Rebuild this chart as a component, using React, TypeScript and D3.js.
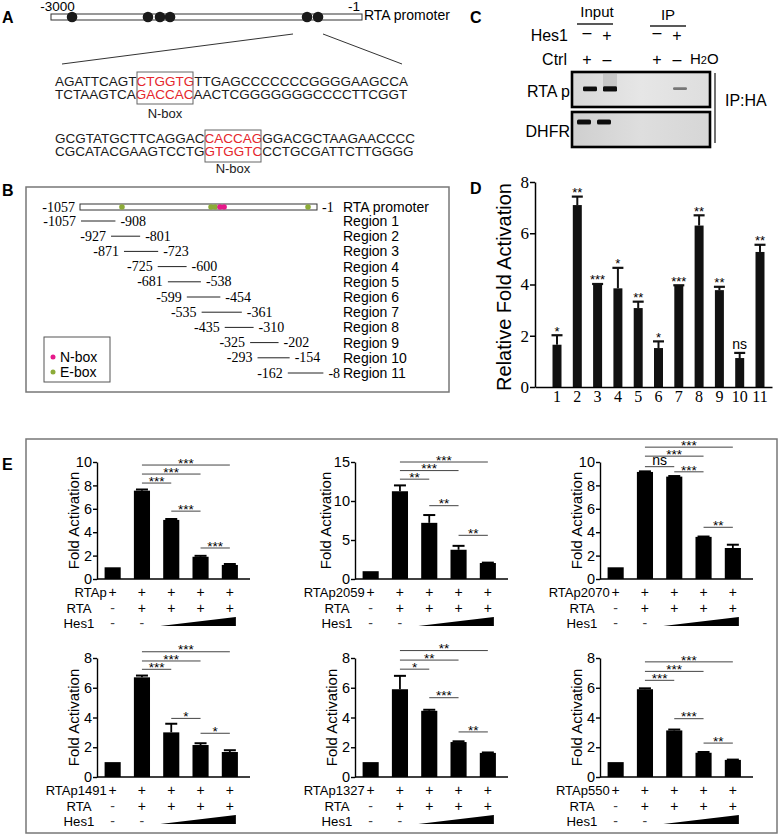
import React, { useEffect, useRef } from "react";
import * as d3 from "d3";

const SANS = "'Liberation Sans', Arial, Helvetica, sans-serif";
const SERIF = "'Liberation Serif', 'Times New Roman', Times, serif";

// ---------------- Panel A data ----------------
const aPromoterRange = [-3000, -1];
const aNBoxSites = [-2797, -2065, -1949, -1852, -531, -425];
const aSeqTop = [
  ["AGATTCAGT", "CTGGTG", "TTGAGCCCCCCCGGGGAAGCCA"],
  ["TCTAAGTCA", "GACCAC", "AACTCGGGGGGGCCCCTTCGGT"],
];
const aSeqBottom = [
  ["GCGTATGCTTCAGGAC", "CACCAG", "GGACGCTAAGAACCCC"],
  ["CGCATACGAAGTCCTG", "GTGGTC", "CCTGCGATTCTTGGGG"],
];

// ---------------- Panel B data ----------------
const bPromoterRange = [-1057, -1];
const bEBoxSites = [-870, -473, -455, -41];
const bNBoxSites = [-433, -415];
const bRegionNames = [
  "Region 1", "Region 2", "Region 3", "Region 4", "Region 5", "Region 6",
  "Region 7", "Region 8", "Region 9", "Region 10", "Region 11",
];
const bRegionStarts = [-1057, -927, -871, -725, -681, -599, -535, -435, -325, -293, -162];
const bRegionEnds = [-908, -801, -723, -600, -538, -454, -361, -310, -202, -154, -8];

// ---------------- Panel C data ----------------
const cLanes = ["InCtrl", "InHes1", "IPCtrl", "IPHes1", "H2O"];
const cLaneSlots = [0, 2, 7, 9, 11.5];
const cHes1Marks = ["–", "+", "–", "+", ""];
const cCtrlMarks = ["+", "–", "+", "–", ""];
const cRtaBand = [0.85, 0.95, 0, 0.3, 0];
const cDhfrBand = [1, 1, 0, 0, 0];

// ---------------- Panel D data ----------------
const dLabels = ["1", "2", "3", "4", "5", "6", "7", "8", "9", "10", "11"];
const dValues = [1.65, 7.1, 4.0, 3.85, 3.08, 1.52, 3.95, 6.3, 3.78, 1.13, 5.27];
const dErrors = [0.37, 0.33, 0.02, 0.8, 0.25, 0.26, 0.02, 0.4, 0.13, 0.2, 0.28];
const dSig = ["*", "**", "***", "*", "**", "*", "***", "**", "**", "ns", "**"];
const dTicks = [0, 2, 4, 6, 8];

// ---------------- Panel E data ----------------
const eConstructs = ["RTAp", "RTAp2059", "RTAp2070", "RTAp1491", "RTAp1327", "RTAp550"];
const eRtaMarks = ["-", "+", "+", "+", "+"];
const eHes1Marks = ["-", "-"];
const eYMax = [10, 15, 10, 8, 8, 8];
const eYStep = [2, 5, 2, 2, 2, 2];

const eValuesRTAp = [1.0, 7.55, 5.05, 1.9, 1.2];
const eErrorsRTAp = [0, 0.1, 0.08, 0.08, 0.08];
const eValues2059 = [1.0, 11.25, 7.2, 3.75, 2.05];
const eErrors2059 = [0, 0.75, 1.0, 0.5, 0.05];
const eValues2070 = [1.0, 9.15, 8.75, 3.6, 2.65];
const eErrors2070 = [0, 0.05, 0.05, 0.03, 0.28];
const eValues1491 = [1.0, 6.7, 3.0, 2.15, 1.68];
const eErrors1491 = [0, 0.12, 0.58, 0.12, 0.12];
const eValues1327 = [1.0, 5.9, 4.45, 2.35, 1.62];
const eErrors1327 = [0, 0.9, 0.07, 0.05, 0.03];
const eValues550 = [1.0, 5.9, 3.13, 1.63, 1.15];
const eErrors550 = [0, 0.06, 0.06, 0.05, 0.02];

// [fromBar, toBar, level, label]
const eSigRTAp = [[1, 4, 9.74, "***"], [1, 3, 8.97, "***"], [1, 2, 8.2, "***"], [2, 3, 5.8, "***"], [3, 4, 2.65, "***"]];
const eSig2059 = [[1, 4, 15.0, "***"], [1, 3, 13.9, "***"], [1, 2, 12.8, "**"], [2, 3, 9.4, "**"], [3, 4, 5.6, "**"]];
const eSig2070 = [[1, 4, 11.27, "***"], [1, 3, 10.5, "***"], [1, 2, 9.6, "ns"], [2, 3, 9.16, "***"], [3, 4, 4.42, "**"]];
const eSig1491 = [[1, 4, 8.42, "***"], [1, 3, 7.8, "***"], [1, 2, 7.24, "***"], [2, 3, 3.94, "*"], [3, 4, 2.94, "*"]];
const eSig1327 = [[1, 4, 8.5, "**"], [1, 3, 7.86, "**"], [1, 2, 7.25, "*"], [2, 3, 5.33, "***"], [3, 4, 3.03, "**"]];
const eSig550 = [[1, 4, 7.74, "***"], [1, 3, 7.1, "***"], [1, 2, 6.5, "***"], [2, 3, 3.92, "***"], [3, 4, 2.28, "**"]];

const eValueSets = [eValuesRTAp, eValues2059, eValues2070, eValues1491, eValues1327, eValues550];
const eErrorSets = [eErrorsRTAp, eErrors2059, eErrors2070, eErrors1491, eErrors1327, eErrors550];
const eSigSets = [eSigRTAp, eSig2059, eSig2070, eSig1491, eSig1327, eSig550];

// ---------------- helpers ----------------
function YAxis({ scale, x, tickValues, fontSize, fontFamily, tickSize, padding, strokeWidth }: any) {
  const ref = useRef<SVGGElement>(null);
  useEffect(() => {
    const g = d3.select(ref.current as SVGGElement);
    g.selectAll("*").remove();
    g.call(
      d3.axisLeft(scale).tickValues(tickValues).tickSize(tickSize).tickPadding(padding).tickSizeOuter(0).tickFormat(d3.format("d")) as any
    );
    g.attr("font-family", fontFamily).attr("font-size", fontSize);
    g.selectAll(".domain, .tick line").attr("stroke", "#000").attr("stroke-width", strokeWidth);
    g.selectAll("text").attr("fill", "#000");
  });
  return <g ref={ref} transform={`translate(${x},0)`} />;
}

function XAxisBand({ scale, y, fontSize, fontFamily, padding, strokeWidth }: any) {
  const ref = useRef<SVGGElement>(null);
  useEffect(() => {
    const g = d3.select(ref.current as SVGGElement);
    g.selectAll("*").remove();
    g.call(d3.axisBottom(scale).tickSize(0).tickPadding(padding).tickSizeOuter(0) as any);
    g.attr("font-family", fontFamily).attr("font-size", fontSize);
    g.selectAll(".domain").attr("stroke", "#000").attr("stroke-width", strokeWidth);
    g.selectAll("text").attr("fill", "#000");
  });
  return <g ref={ref} transform={`translate(0,${y})`} />;
}

// ---------------- Panel A ----------------
function SeqLine({ segs, y }: any) {
  return (
    <text x={55} y={y} fontSize={13.5} fill="#1a1a1a">
      {segs.map((s: string, i: number) => (
        <tspan key={i} fill={i === 1 ? "#e5262c" : "#1a1a1a"}>{s}</tspan>
      ))}
    </text>
  );
}

function PanelA() {
  const x = d3.scaleLinear().domain(aPromoterRange).range([51, 362]);
  return (
    <g>
      <text x={2} y={22.5} fontSize={16} fontWeight="bold">A</text>
      <text x={x(-3000) + 6.5} y={11} fontSize={13.5} textAnchor="middle">-3000</text>
      <text x={x(-1) - 8} y={11} fontSize={13.5} textAnchor="middle">-1</text>
      <rect x={x(-3000)} y={14} width={x(-1) - x(-3000)} height={6} fill="#fff" stroke="#333" strokeWidth={1} />
      {aNBoxSites.map((s, i) => (
        <circle key={i} cx={x(s)} cy={17} r={5.3} fill="#1a1a1a" />
      ))}
      <text x={364} y={20} fontSize={14}>RTA promoter</text>
      <line x1={293} y1={34} x2={62} y2={64} stroke="#333" strokeWidth={1} />
      <line x1={323} y1={34} x2={402} y2={64} stroke="#333" strokeWidth={1} />
      <SeqLine segs={aSeqTop[0]} y={86} />
      <SeqLine segs={aSeqTop[1]} y={99} />
      <rect x={137} y={72} width={56} height={32} fill="none" stroke="#666" strokeWidth={1} />
      <text x={165} y={117.5} fontSize={13} textAnchor="middle" fill="#1a1a1a">N-box</text>
      <SeqLine segs={aSeqBottom[0]} y={142.5} />
      <SeqLine segs={aSeqBottom[1]} y={156} />
      <rect x={205} y={130} width={56} height={32} fill="none" stroke="#666" strokeWidth={1} />
      <text x={233} y={173} fontSize={13} textAnchor="middle" fill="#1a1a1a">N-box</text>
    </g>
  );
}

// ---------------- Panel B ----------------
const GREEN = "#8cab38";
const PINK = "#e6198a";

function PanelB() {
  const xp = d3.scaleLinear().domain(bPromoterRange).range([80, 317]);
  const xr = d3.scaleLinear().domain(bPromoterRange).range([81, 325]);
  const rowY = d3.scalePoint().domain(bRegionNames).range([221, 373]);
  return (
    <g>
      <text x={2} y={196} fontSize={16} fontWeight="bold">B</text>
      <rect x={26} y={187} width={423} height={205} fill="none" stroke="#777" strokeWidth={1.5} />
      <text x={xp(-1057) - 5} y={211.5} fontSize={14} fontFamily={SERIF} textAnchor="end">-1057</text>
      <rect x={xp(-1057)} y={204} width={xp(-1) - xp(-1057)} height={6} fill="#fff" stroke="#333" strokeWidth={1} />
      {bEBoxSites.map((s, i) => (
        <circle key={"e" + i} cx={xp(s)} cy={207} r={2.8} fill={GREEN} />
      ))}
      {bNBoxSites.map((s, i) => (
        <circle key={"n" + i} cx={xp(s)} cy={207} r={2.8} fill={PINK} />
      ))}
      <text x={xp(-1) + 5} y={211.5} fontSize={14} fontFamily={SERIF}>-1</text>
      <text x={343} y={212} fontSize={14}>RTA promoter</text>
      {bRegionNames.map((name, i) => {
        const y = rowY(name) as number;
        const s = bRegionStarts[i];
        const e = bRegionEnds[i];
        return (
          <g key={name}>
            <text x={xr(s) - 5} y={y + 4.6} fontSize={14} fontFamily={SERIF} textAnchor="end">{String(s)}</text>
            <line x1={xr(s)} x2={xr(e)} y1={y} y2={y} stroke="#222" strokeWidth={1} />
            <text x={xr(e) + 5} y={y + 4.6} fontSize={14} fontFamily={SERIF}>{String(e)}</text>
            <text x={343} y={y + 5} fontSize={14}>{name}</text>
          </g>
        );
      })}
      <rect x={44} y={337} width={66} height={45} fill="none" stroke="#555" strokeWidth={1} />
      <circle cx={53} cy={357} r={2.5} fill={PINK} />
      <text x={60} y={362} fontSize={14}>N-box</text>
      <circle cx={53} cy={372} r={2.5} fill={GREEN} />
      <text x={60} y={377} fontSize={14}>E-box</text>
    </g>
  );
}

// ---------------- Panel C ----------------
function PanelC() {
  const lx = d3.scaleLinear().domain([0, 11.5]).range([587, 702]);
  const laneX = cLanes.map((_, i) => lx(cLaneSlots[i]));
  return (
    <g>
      <defs>
        <linearGradient id="gelTop" x1="0" x2="1" y1="0" y2="0">
          <stop offset="0" stopColor="#d8d8d8" />
          <stop offset="0.5" stopColor="#e6e6e6" />
          <stop offset="1" stopColor="#dedede" />
        </linearGradient>
        <linearGradient id="gelBot" x1="0" x2="1" y1="0" y2="0">
          <stop offset="0" stopColor="#cfcfcf" />
          <stop offset="0.5" stopColor="#dedede" />
          <stop offset="1" stopColor="#d6d6d6" />
        </linearGradient>
        <filter id="blur1"><feGaussianBlur stdDeviation="0.6" /></filter>
      </defs>
      <text x={470} y={22.7} fontSize={16} fontWeight="bold">C</text>
      <text x={597} y={17} fontSize={15} textAnchor="middle">Input</text>
      <line x1={577} x2={613} y1={24} y2={24} stroke="#222" strokeWidth={1.3} />
      <text x={668} y={20} fontSize={15} textAnchor="middle">IP</text>
      <line x1={650} x2={686} y1={26} y2={26} stroke="#222" strokeWidth={1.3} />
      <text x={568} y={40.5} fontSize={16} textAnchor="end">Hes1</text>
      <text x={567} y={65} fontSize={16} textAnchor="end">Ctrl</text>
      {cHes1Marks.map((m, i) => (
        <text key={"h" + i} x={laneX[i]} y={m === "+" ? 41 : 38} fontSize={16} textAnchor="middle">{m}</text>
      ))}
      {cCtrlMarks.map((m, i) => (
        <text key={"c" + i} x={laneX[i]} y={65} fontSize={16} textAnchor="middle">{m}</text>
      ))}
      <text x={690} y={64} fontSize={15}>H<tspan fontSize={11}>2</tspan>O</text>

      <text x={570} y={96.5} fontSize={16} textAnchor="end">RTA p</text>
      <text x={570} y={136.5} fontSize={16} textAnchor="end">DHFR</text>

      <rect x={572} y={72} width={138} height={35} fill="url(#gelTop)" stroke="#000" strokeWidth={2.6} />
      <rect x={572} y={112} width={138} height={35} fill="url(#gelBot)" stroke="#000" strokeWidth={2.6} />
      <rect x={603} y={74} width={14} height={12} fill="#9a9a9a" opacity={0.35} filter="url(#blur1)" />
      {cRtaBand.map((v, i) =>
        v > 0 ? (
          <rect key={"r" + i} x={laneX[i] + 3 - 7} y={89 - 1.2 - 1.6 * v} width={14} height={2.4 + 3.2 * v * v}
            rx={1.2} fill="#111" opacity={Math.min(1, 0.2 + v)} filter="url(#blur1)" />
        ) : null
      )}
      {cDhfrBand.map((v, i) =>
        v > 0 ? (
          <rect key={"d" + i} x={laneX[i] - 3 - 7} y={119.5} width={14} height={5} rx={1.5}
            fill="#111" opacity={v} filter="url(#blur1)" />
        ) : null
      )}
      <line x1={715} x2={715} y1={73} y2={143} stroke="#111" strokeWidth={1.2} />
      <text x={725} y={105.5} fontSize={16}>IP:HA</text>
    </g>
  );
}

// ---------------- Panel D ----------------
function PanelD() {
  const y = d3.scaleLinear().domain([0, 8]).range([387, 182]);
  const x = d3.scaleBand().domain(dLabels).range([535, 772]).paddingInner(0.557).paddingOuter(0.616).align(0.7);
  const bw = x.bandwidth();
  return (
    <g>
      <text x={470} y={194} fontSize={16} fontWeight="bold">D</text>
      <text transform={`translate(511,287) rotate(-90)`} fontSize={20} textAnchor="middle">Relative Fold Activation</text>
      {dLabels.map((lab, i) => {
        const cx = (x(lab) as number) + bw / 2;
        const top = y(dValues[i] + dErrors[i]);
        const isNs = dSig[i] === "ns";
        return (
          <g key={lab}>
            <rect x={x(lab)} y={y(dValues[i])} width={bw} height={y(0) - y(dValues[i])} fill="#111" />
            <line x1={cx} x2={cx} y1={y(dValues[i])} y2={top} stroke="#111" strokeWidth={2} />
            <line x1={cx - 5.5} x2={cx + 5.5} y1={top} y2={top} stroke="#111" strokeWidth={2.2} />
            <text x={cx} y={isNs ? top - 4 : top + 0.5} fontSize={isNs ? 14 : 13} textAnchor="middle">{dSig[i]}</text>
          </g>
        );
      })}
      <YAxis scale={y} x={535} tickValues={dTicks} fontSize={17} fontFamily={SERIF} tickSize={5} padding={1} strokeWidth={1.5} />
      <XAxisBand scale={x} y={387} fontSize={16} fontFamily={SERIF} padding={4} strokeWidth={1.5} />
    </g>
  );
}

// ---------------- Panel E ----------------
function EChart({ ax, y0, yTop, label, values, errors, yMax, yStep, sig }: any) {
  const y = d3.scaleLinear().domain([0, yMax]).range([y0, yTop]);
  const idx = d3.range(values.length);
  const x = d3.scaleBand<number>().domain(idx).range([ax + 1, ax + 147.5]).paddingInner(0.45).paddingOuter(0.225);
  const bw = x.bandwidth();
  const cx = (i: number) => (x(i) as number) + bw / 2;
  const ticks = d3.range(0, yMax + 0.001, yStep);
  const labelOffset = yMax >= 15 ? 24 : 18;
  const labX = ax - 18;
  return (
    <g>
      <text transform={`translate(${ax - labelOffset},${(y0 + yTop) / 2}) rotate(-90)`} fontSize={15} textAnchor="middle">Fold Activation</text>
      {idx.map((i) => {
        const v = values[i];
        const e = errors[i];
        const top = y(v + e);
        return (
          <g key={i}>
            <rect x={x(i)} y={y(v)} width={bw} height={y(0) - y(v)} fill="#000" />
            {e > 0 ? (
              <g>
                <line x1={cx(i)} x2={cx(i)} y1={y(v)} y2={top} stroke="#000" strokeWidth={1.8} />
                <line x1={cx(i) - 6} x2={cx(i) + 6} y1={top} y2={top} stroke="#000" strokeWidth={2} />
              </g>
            ) : null}
          </g>
        );
      })}
      {sig.map((s: any, k: number) => {
        const [a, b, lvl, lab] = s;
        const ly = y(lvl);
        const isNs = lab === "ns";
        return (
          <g key={"s" + k}>
            <line x1={cx(a)} x2={cx(b)} y1={ly} y2={ly} stroke="#444" strokeWidth={1} />
            <text x={(cx(a) + cx(b)) / 2} y={isNs ? ly - 1.5 : ly + 2.7} fontSize={isNs ? 14 : 13.5} textAnchor="middle">{lab}</text>
          </g>
        );
      })}
      <line x1={ax} x2={ax + 153} y1={y0} y2={y0} stroke="#000" strokeWidth={1.4} />
      <YAxis scale={y} x={ax} tickValues={ticks} fontSize={14.5} fontFamily={SANS} tickSize={4} padding={1} strokeWidth={1.4} />
      <text x={cx(0) - 6} y={y0 + 18} fontSize={13} textAnchor="end">{label}</text>
      <text x={labX} y={y0 + 34} fontSize={13.2} textAnchor="middle">RTA</text>
      <text x={labX} y={y0 + 49} fontSize={13.2} textAnchor="middle">Hes1</text>
      {idx.map((i) => (
        <text key={"p" + i} x={cx(i)} y={y0 + 18} fontSize={14} textAnchor="middle">+</text>
      ))}
      {eRtaMarks.map((m, i) => (
        <text key={"r" + i} x={cx(i)} y={y0 + 34} fontSize={14} textAnchor="middle" fill={m === "-" ? "#444" : "#000"}>{m}</text>
      ))}
      {eHes1Marks.map((m, i) => (
        <text key={"h" + i} x={cx(i)} y={y0 + 49} fontSize={14} textAnchor="middle" fill="#444">{m}</text>
      ))}
      <path d={`M${cx(2) - 11},${y0 + 47} L${cx(4) + 6},${y0 + 47} L${cx(4) + 6},${y0 + 38} Z`} fill="#000" />
    </g>
  );
}

function PanelE() {
  const axisX = [97, 355, 600];
  const baseY = [579, 777];
  const topY = [462, 658];
  return (
    <g>
      <text x={2} y={470} fontSize={16} fontWeight="bold">E</text>
      <rect x={26} y={439} width={751} height={394} fill="none" stroke="#777" strokeWidth={1.5} />
      {eConstructs.map((c, k) => (
        <EChart
          key={c}
          ax={axisX[k % 3]}
          y0={baseY[Math.floor(k / 3)]}
          yTop={topY[Math.floor(k / 3)]}
          label={c}
          values={eValueSets[k]}
          errors={eErrorSets[k]}
          yMax={eYMax[k]}
          yStep={eYStep[k]}
          sig={eSigSets[k]}
        />
      ))}
    </g>
  );
}

export default function App() {
  return (
    <svg
      width={782}
      height={835}
      viewBox="0 0 782 835"
      style={{ position: "absolute", left: 0, top: 0, background: "#fff" }}
      fontFamily={SANS}
    >
      <rect x={0} y={0} width={782} height={835} fill="#fff" />
      <PanelA />
      <PanelB />
      <PanelC />
      <PanelD />
      <PanelE />
    </svg>
  );
}
